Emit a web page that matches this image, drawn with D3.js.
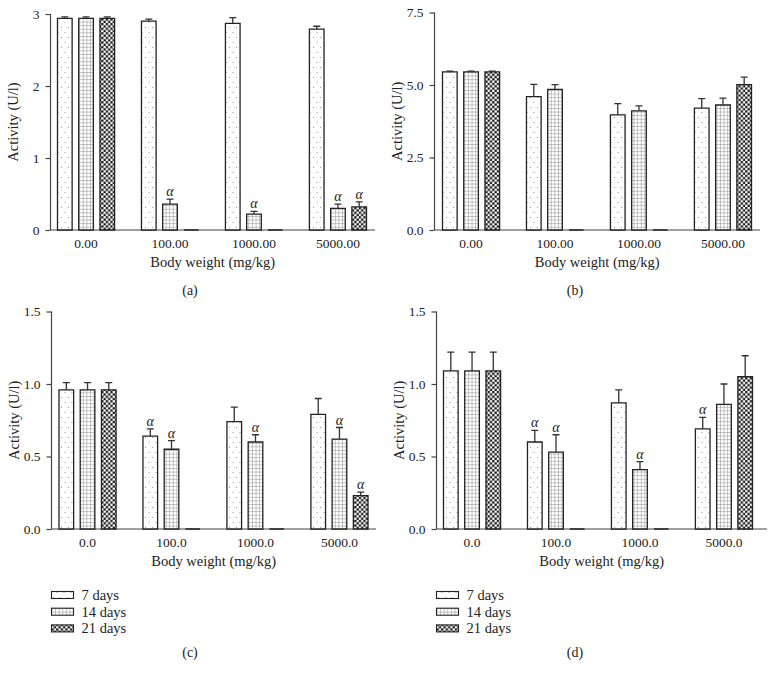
<!DOCTYPE html>
<html>
<head>
<meta charset="utf-8">
<script src="https://cdn.jsdelivr.net/npm/d3@7"></script>
<style>
    body { margin: 0; background: #fff; }
    svg text { font-family: "Liberation Serif", "Times New Roman", serif; fill: #222; }
</style>
</head>
<body>
<div id="chart"></div>
<script>
var series_names = ["7 days", "14 days", "21 days"];
var dose_labels_ab = ["0.00", "100.00", "1000.00", "5000.00"];
var dose_labels_cd = ["0.0", "100.0", "1000.0", "5000.0"];

// panel (a): rows are 7, 14, 21 days; columns are the four doses
var a_means = [[2.94, 2.90, 2.87, 2.79], [2.94, 0.36, 0.22, 0.30], [2.94, 0, 0, 0.32]];
var a_errors = [[0.02, 0.03, 0.08, 0.04], [0.02, 0.07, 0.04, 0.06], [0.02, 0, 0, 0.07]];
var a_alpha = [[0, 0, 0, 0], [0, 1, 1, 1], [0, 0, 0, 1]];
var a_ticks = [0, 1, 2, 3];

// panel (b)
var b_means = [[5.45, 4.60, 3.97, 4.20], [5.45, 4.85, 4.11, 4.31], [5.45, 0, 0, 5.01]];
var b_errors = [[0.03, 0.42, 0.39, 0.33], [0.03, 0.16, 0.17, 0.24], [0.03, 0, 0, 0.26]];
var b_alpha = [[0, 0, 0, 0], [0, 0, 0, 0], [0, 0, 0, 0]];
var b_ticks = [0, 2.5, 5, 7.5];

// panel (c)
var c_means = [[0.96, 0.64, 0.74, 0.79], [0.96, 0.55, 0.60, 0.62], [0.96, 0, 0, 0.23]];
var c_errors = [[0.05, 0.05, 0.10, 0.11], [0.05, 0.06, 0.05, 0.08], [0.05, 0, 0, 0.025]];
var c_alpha = [[0, 1, 0, 0], [0, 1, 1, 1], [0, 0, 0, 1]];
var c_ticks = [0, 0.5, 1, 1.5];

// panel (d)
var d_means = [[1.09, 0.60, 0.87, 0.69], [1.09, 0.53, 0.41, 0.86], [1.09, 0, 0, 1.05]];
var d_errors = [[0.13, 0.08, 0.09, 0.08], [0.13, 0.12, 0.055, 0.14], [0.13, 0, 0, 0.145]];
var d_alpha = [[0, 1, 0, 1], [0, 1, 1, 0], [0, 0, 0, 0]];
var d_ticks = [0, 0.5, 1, 1.5];

var svg = d3.select("#chart").append("svg")
            .attr("width", 769)
            .attr("height", 680);

svg.append("rect").attr("width", 769).attr("height", 680).attr("fill", "#fff");

make_patterns(svg);

var pattern_ids = ["url(#dots)", "url(#grid)", "url(#checker)"];

var panels = [
    {means: a_means, errors: a_errors, alpha: a_alpha, ticks: a_ticks, groups: dose_labels_ab, y_format: d3.format("d"),
     axis_x: 50.5, axis_end: 375, first_bar: 57.5, top: 14, bottom: 230, letter: "(a)", letter_x: 190, letter_y: 295, legend: false},
    {means: b_means, errors: b_errors, alpha: b_alpha, ticks: b_ticks, groups: dose_labels_ab, y_format: d3.format(".1f"),
     axis_x: 434.5, axis_end: 760, first_bar: 442.5, top: 12.5, bottom: 230, letter: "(b)", letter_x: 575, letter_y: 295, legend: false},
    {means: c_means, errors: c_errors, alpha: c_alpha, ticks: c_ticks, groups: dose_labels_cd, y_format: d3.format(".1f"),
     axis_x: 51.5, axis_end: 376, first_bar: 59, top: 311.5, bottom: 529, letter: "(c)", letter_x: 190, letter_y: 657, legend: true},
    {means: d_means, errors: d_errors, alpha: d_alpha, ticks: d_ticks, groups: dose_labels_cd, y_format: d3.format(".1f"),
     axis_x: 436.5, axis_end: 767, first_bar: 443.5, top: 311.5, bottom: 529, letter: "(d)", letter_x: 575, letter_y: 657, legend: true}
];

for (var index in panels)
{
    draw_panel(svg, panels[index]);
}

function make_patterns(root)
{
    var defs = root.append("defs");

    var dots = defs.append("pattern").attr("id", "dots")
                   .attr("patternUnits", "userSpaceOnUse")
                   .attr("width", 7).attr("height", 10);
    dots.append("rect").attr("width", 7).attr("height", 10).attr("fill", "#fff");
    dots.append("circle").attr("cx", 2).attr("cy", 2.5).attr("r", 0.55).attr("fill", "#888");
    dots.append("circle").attr("cx", 5.5).attr("cy", 7.5).attr("r", 0.55).attr("fill", "#888");

    var grid = defs.append("pattern").attr("id", "grid")
                   .attr("patternUnits", "userSpaceOnUse")
                   .attr("width", 3.6).attr("height", 3.6);
    grid.append("rect").attr("width", 3.6).attr("height", 3.6).attr("fill", "#fff");
    grid.append("path").attr("d", "M0,0.3H3.6M0.3,0V3.6")
        .attr("stroke", "#999").attr("stroke-width", 0.7);

    var checker = defs.append("pattern").attr("id", "checker")
                      .attr("patternUnits", "userSpaceOnUse")
                      .attr("width", 4.6).attr("height", 4.6);
    checker.append("rect").attr("width", 4.6).attr("height", 4.6).attr("fill", "#fff");
    checker.append("rect").attr("width", 2.3).attr("height", 2.3).attr("fill", "#1a1a1a");
    checker.append("rect").attr("x", 2.3).attr("y", 2.3).attr("width", 2.3).attr("height", 2.3).attr("fill", "#1a1a1a");
}

function draw_panel(root, panel)
{
    var y_max = panel.ticks[panel.ticks.length - 1];

    var y = d3.scaleLinear().domain([0, y_max]).range([panel.bottom, panel.top]);

    var x_group = d3.scaleBand().domain(panel.groups)
                    .range([panel.first_bar, panel.first_bar + 309])
                    .paddingInner(0.32);

    var x_series = d3.scaleBand().domain(series_names)
                     .range([0, x_group.bandwidth()])
                     .paddingInner(0.31);

    var g = root.append("g");

    // y axis
    var y_axis = g.append("g")
                  .attr("transform", "translate(" + panel.axis_x + ",0)")
                  .call(d3.axisLeft(y).tickValues(panel.ticks).tickFormat(panel.y_format).tickSize(5).tickPadding(6));
    y_axis.select(".domain").attr("d", "M0," + panel.bottom + "V" + panel.top + "h0");
    y_axis.selectAll("path, line").attr("stroke", "#444").attr("stroke-width", 1.2);
    y_axis.selectAll("text").attr("font-size", 13.5).attr("fill", "#222");

    // x axis line and labels
    g.append("line")
     .attr("x1", panel.axis_x).attr("x2", panel.axis_end)
     .attr("y1", panel.bottom).attr("y2", panel.bottom)
     .attr("stroke", "#444").attr("stroke-width", 1.2);

    g.selectAll(".dose")
     .data(panel.groups)
     .enter().append("text")
     .attr("x", function (d) { return x_group(d) + x_group.bandwidth() / 2; })
     .attr("y", panel.bottom + 17.5)
     .attr("text-anchor", "middle")
     .attr("font-size", 13.5)
     .text(function (d) { return d; });

    var plot_center = (panel.axis_x + panel.axis_end) / 2;

    g.append("text")
     .attr("x", plot_center)
     .attr("y", panel.bottom + 37)
     .attr("text-anchor", "middle")
     .attr("font-size", 14.5)
     .text("Body weight (mg/kg)");

    g.append("text")
     .attr("transform", "translate(" + (panel.axis_x - 33) + "," + ((panel.top + panel.bottom) / 2) + ")rotate(-90)")
     .attr("text-anchor", "middle")
     .attr("font-size", 14.5)
     .text("Activity (U/l)");

    // bars
    for (var s = 0; s < series_names.length; s++)
    {
        for (var k = 0; k < panel.groups.length; k++)
        {
            var value = panel.means[s][k];
            var bar_x = x_group(panel.groups[k]) + x_series(series_names[s]);
            var bar_w = x_series.bandwidth();
            var bar_top = y(value);

            g.append("path")
             .attr("d", "M" + bar_x + "," + panel.bottom + "V" + bar_top + "H" + (bar_x + bar_w) + "V" + panel.bottom + "Z")
             .attr("fill", value > 0 ? pattern_ids[s] : "none")
             .attr("stroke", "#222")
             .attr("stroke-width", 1.3);

            if (value <= 0)
            {
                continue;
            }

            var err = panel.errors[s][k];
            var cap_y = y(value + err);
            var mid_x = bar_x + bar_w / 2;

            g.append("path")
             .attr("d", "M" + mid_x + "," + bar_top + "V" + cap_y + "M" + (mid_x - 3.5) + "," + cap_y + "H" + (mid_x + 3.5))
             .attr("stroke", "#333")
             .attr("stroke-width", 1.3)
             .attr("fill", "none");

            if (panel.alpha[s][k])
            {
                g.append("text")
                 .attr("x", mid_x)
                 .attr("y", cap_y - 3)
                 .attr("text-anchor", "middle")
                 .attr("font-size", 14)
                 .attr("font-style", "italic")
                 .text("\u03b1");
            }
        }
    }

    // panel letter
    root.append("text")
        .attr("x", panel.letter_x)
        .attr("y", panel.letter_y)
        .attr("text-anchor", "middle")
        .attr("font-size", 14)
        .text(panel.letter);

    if (panel.legend)
    {
        var legend = root.append("g")
                         .attr("transform", "translate(" + panel.axis_x + ",595)");

        var rows = legend.selectAll("g")
                         .data(series_names)
                         .enter().append("g")
                         .attr("transform", function (d, i) { return "translate(0," + (i * 16.7) + ")"; });

        rows.append("rect")
            .attr("x", 0).attr("y", -3.5)
            .attr("width", 22).attr("height", 7)
            .attr("fill", function (d, i) { return pattern_ids[i]; })
            .attr("stroke", "#222")
            .attr("stroke-width", 1.1);

        rows.append("text")
            .attr("x", 30)
            .attr("y", 5)
            .attr("font-size", 14.5)
            .text(function (d) { return d; });
    }
}
</script>
</body>
</html>
